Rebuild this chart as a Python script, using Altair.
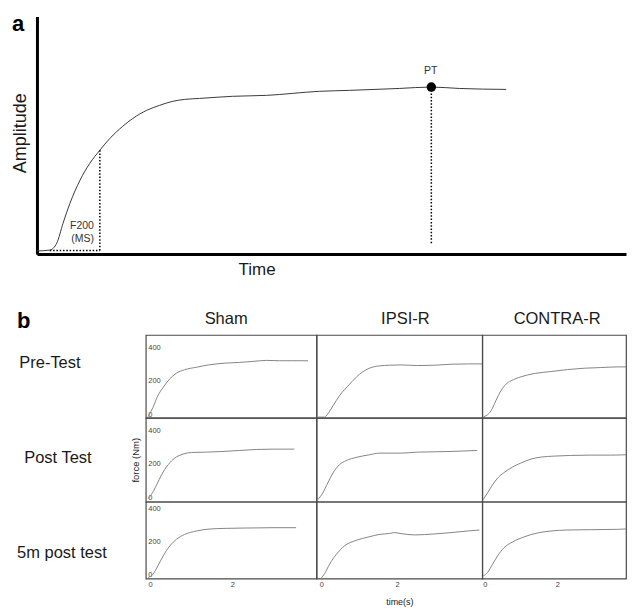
import altair as alt
import pandas as pd

FONT = "Liberation Sans"
TEXT = "#1a1a1a"

# ---------------- panel a : schematic force-time curve ----------------
A_TIME_MS = [0, 41, 63, 83, 105, 137, 168, 200, 232, 273, 305, 349, 390, 432,
             470, 517, 622, 730, 898, 994, 1152, 1254, 1343, 1492]
A_AMPLITUDE = [1.3, 1.7, 4.6, 13.0, 21.4, 31.1, 38.2, 43.7, 48.7, 53.8, 57.1, 60.5,
               62.6, 64.3, 65.1, 65.5, 66.4, 66.8, 68.5, 68.9, 69.7, 70.3, 69.7, 69.3]
F200_MS = 200
F200_AMP = 43.7
ONSET_MS = 41
BASE_AMP = 1.5
PT_MS = 1254
PT_AMP = 70.3
PT_LINE_BOTTOM = 4.6
A_TEXT_F200 = ["F200", "(MS)"]
A_TEXT_F200_T = [181, 181]
A_TEXT_F200_AMP = [12.0, 6.3]
A_TEXT_PT = ["PT"]
A_TEXT_PT_T = [1252]
A_TEXT_PT_AMP = [77.1]

# ---------------- panel b : force (Nm) vs time (s) ----------------
ROW_NAMES = ["Pre-Test", "Post Test", "5m post test"]
COL_NAMES = ["Sham", "IPSI-R", "CONTRA-R"]

SHAM_PRE_T = [-0.05, 0.07, 0.19, 0.32, 0.48, 0.64, 0.84, 1.13, 1.45, 1.85, 2.18, 2.50, 2.83, 3.15, 3.47, 3.84]
SHAM_PRE_F = [-16, 40, 111, 161, 212, 246, 267, 282, 297, 307, 311, 317, 323, 321, 321, 321]
IPSI_PRE_T = [-0.12, 0.09, 0.17, 0.31, 0.48, 0.75, 1.01, 1.27, 1.53, 1.80, 2.11, 2.54, 2.98, 3.42, 3.86, 4.24]
IPSI_PRE_F = [-18, -18, 0, 50, 110, 180, 240, 276, 290, 294, 296, 292, 294, 300, 302, 302]
CONTRA_PRE_T = [-0.04, 0.07, 0.17, 0.30, 0.44, 0.58, 0.72, 0.99, 1.36, 1.82, 2.28, 2.74, 3.20, 3.65, 4.07]
CONTRA_PRE_F = [-16, -4, 20, 80, 140, 180, 200, 224, 244, 256, 268, 276, 280, 284, 284]

SHAM_POST_T = [-0.05, 0.03, 0.16, 0.28, 0.44, 0.60, 0.80, 1.01, 1.37, 1.77, 2.18, 2.58, 2.99, 3.51]
SHAM_POST_F = [-10, 14, 74, 134, 195, 235, 259, 269, 271, 275, 281, 287, 289, 289]
IPSI_POST_T = [-0.09, 0.04, 0.17, 0.31, 0.48, 0.66, 0.92, 1.27, 1.53, 2.11, 2.54, 2.98, 3.42, 4.11]
IPSI_POST_F = [-16, 24, 84, 145, 195, 220, 239, 255, 265, 265, 271, 273, 275, 281]
CONTRA_POST_T = [-0.05, 0.07, 0.21, 0.35, 0.53, 0.76, 0.99, 1.27, 1.54, 1.91, 2.37, 2.92, 3.47, 4.07]
CONTRA_POST_F = [-16, 24, 74, 114, 148, 181, 205, 229, 241, 247, 251, 253, 253, 257]

SHAM_5M_T = [-0.05, 0.07, 0.19, 0.32, 0.48, 0.64, 0.84, 1.13, 1.45, 1.85, 2.34, 2.99, 3.55]
SHAM_5M_F = [-20, 0, 51, 112, 172, 212, 242, 263, 275, 279, 281, 283, 283]
IPSI_5M_T = [0.0, 0.09, 0.22, 0.40, 0.61, 0.92, 1.27, 1.53, 1.80, 1.93, 2.11, 2.46, 2.98, 3.42, 3.86, 4.17]
IPSI_5M_F = [-24, 4, 61, 121, 172, 206, 228, 242, 248, 253, 247, 239, 245, 253, 263, 269]
CONTRA_5M_T = [-0.05, 0.07, 0.21, 0.35, 0.53, 0.76, 1.08, 1.45, 1.82, 2.28, 2.92, 3.65, 4.07]
CONTRA_5M_F = [-10, 10, 61, 112, 162, 196, 227, 251, 263, 269, 271, 273, 277]

Y_TICKS = [0, 200, 400]
X_TICKS = [0, 2]

PANEL_DATA = [
    [(SHAM_PRE_T, SHAM_PRE_F), (IPSI_PRE_T, IPSI_PRE_F), (CONTRA_PRE_T, CONTRA_PRE_F)],
    [(SHAM_POST_T, SHAM_POST_F), (IPSI_POST_T, IPSI_POST_F), (CONTRA_POST_T, CONTRA_POST_F)],
    [(SHAM_5M_T, SHAM_5M_F), (IPSI_5M_T, IPSI_5M_F), (CONTRA_5M_T, CONTRA_5M_F)],
]

# layout settings
COL_W = [171, 166, 144]
COL_XDOM = [[-0.104, 4.046], [-0.124, 4.245], [-0.074, 3.893]]
ROW_H = [83, 84, 77]
ROW_YDOM = [[-22.2, 476], [-28, 478], [-26, 441]]
COL_TITLE_DX = [-5, 6, 3]
ROW_LABEL_X = [42, 50, 54]
ROW_LABEL_Y = [28, 40, 51]
LABEL_W = 138
HEADER_H = 30
GAP_AB = 28


def text_chart(txt, **mark_kw):
    return alt.Chart(pd.DataFrame({"txt": [txt]})).mark_text(font=FONT, **mark_kw)


# ---------------- build panel a ----------------
xa = alt.X("t:Q", scale=alt.Scale(domain=[0, 1873], nice=False, zero=False),
           axis=alt.Axis(title="Time", labels=False, ticks=False, tickSize=0, grid=False,
                         domainColor="#000", domainWidth=3, titleFont=FONT, titleFontSize=17,
                         titleFontWeight="normal", titleColor=TEXT, titlePadding=7,
                         titleX=220, titleAlign="center"))
ya = alt.Y("a:Q", scale=alt.Scale(domain=[0, 100], nice=False, zero=False),
           axis=alt.Axis(title=None, labels=False, ticks=False, tickSize=0, grid=False,
                         domainColor="#000", domainWidth=3))

df_a = pd.DataFrame({"t": A_TIME_MS, "a": A_AMPLITUDE})
line_a = alt.Chart(df_a).mark_line(color="#3a3a3a", strokeWidth=1, interpolate="monotone").encode(x=xa, y=ya)

df_rules = pd.DataFrame({
    "t": [F200_MS, ONSET_MS, PT_MS],
    "t2": [F200_MS, F200_MS, PT_MS],
    "a": [BASE_AMP, BASE_AMP, PT_LINE_BOTTOM],
    "a2": [F200_AMP, BASE_AMP, PT_AMP],
})
rules_a = alt.Chart(df_rules).mark_rule(color="#000", strokeWidth=1.5, strokeDash=[1.5, 1.8]).encode(
    x=xa, x2="t2:Q", y=ya, y2="a2:Q")

dot_a = alt.Chart(pd.DataFrame({"t": [PT_MS], "a": [PT_AMP]})).mark_circle(
    size=90, color="#000", opacity=1).encode(x=xa, y=ya)

df_f200 = pd.DataFrame({"t": A_TEXT_F200_T, "a": A_TEXT_F200_AMP, "label": A_TEXT_F200})
txt_f200 = alt.Chart(df_f200).mark_text(font=FONT, fontSize=10.5, color="#333", align="right",
                                        baseline="middle").encode(x=xa, y=ya, text="label:N")
df_pt = pd.DataFrame({"t": A_TEXT_PT_T, "a": A_TEXT_PT_AMP, "label": A_TEXT_PT})
txt_pt = alt.Chart(df_pt).mark_text(font=FONT, fontSize=10.5, color="#333", align="center",
                                    baseline="middle").encode(x=xa, y=ya, text="label:N")

a_plot = alt.layer(line_a, rules_a, dot_a, txt_f200, txt_pt).properties(width=590, height=238)

a_left = alt.layer(
    text_chart("a", fontSize=22, fontWeight="bold", color="#000", align="left",
               baseline="alphabetic").encode(text="txt:N", x=alt.value(4), y=alt.value(15)),
    text_chart("Amplitude", fontSize=18, color=TEXT, angle=270, align="center",
               baseline="alphabetic").encode(text="txt:N", x=alt.value(18), y=alt.value(117)),
).properties(width=29, height=238)

row_a = alt.hconcat(a_left, a_plot, spacing=0, bounds="flush")


# ---------------- build panel b ----------------
def make_panel(r, c):
    times, forces = PANEL_DATA[r][c]
    df = pd.DataFrame({"time": times, "force": forces})
    if r == 2:
        xkw = dict(values=X_TICKS, labelFont=FONT, labelFontSize=7.5, labelColor="#444",
                   labelPadding=2, ticks=False, tickSize=0, domain=False, grid=False,
                   labelFlush=False)
        if c == 1:
            xkw.update(title="time(s)", titleFont=FONT, titleFontSize=9, titleFontWeight="normal",
                       titleColor=TEXT, titlePadding=9)
        else:
            xkw["title"] = None
        x_axis = alt.Axis(**xkw)
    else:
        x_axis = None
    if c == 0:
        ykw = dict(values=Y_TICKS, labelFont=FONT, labelFontSize=7.5, labelColor="#444",
                   labelAlign="left", labelPadding=-2, ticks=False, tickSize=0, domain=False,
                   grid=False, labelFlush=False, labelOverlap=False)
        if r == 1:
            ykw.update(title="force (Nm)", titleFont=FONT, titleFontSize=9.5,
                       titleFontWeight="normal", titleColor=TEXT, titlePadding=5)
        else:
            ykw["title"] = None
        y_axis = alt.Axis(**ykw)
    else:
        y_axis = None
    return alt.Chart(df).mark_line(color="#858585", strokeWidth=1, interpolate="monotone", clip=True).encode(
        x=alt.X("time:Q", scale=alt.Scale(domain=COL_XDOM[c], nice=False, zero=False), axis=x_axis),
        y=alt.Y("force:Q", scale=alt.Scale(domain=ROW_YDOM[r], nice=False, zero=False), axis=y_axis),
    ).properties(width=COL_W[c], height=ROW_H[r],
                 view=alt.ViewBackground(stroke="#4a4a4a", strokeWidth=1.2))


def label_view(r):
    return text_chart(ROW_NAMES[r], fontSize=16.5, color=TEXT, align="center",
                      baseline="middle").encode(text="txt:N", x=alt.value(ROW_LABEL_X[r]),
                                                y=alt.value(ROW_LABEL_Y[r])
                                                ).properties(width=LABEL_W, height=ROW_H[r])


def header_view(c):
    return text_chart(COL_NAMES[c], fontSize=16.5, color=TEXT, align="center",
                      baseline="alphabetic").encode(text="txt:N",
                                                    x=alt.value(COL_W[c] / 2 + COL_TITLE_DX[c]),
                                                    y=alt.value(18.8)
                                                    ).properties(width=COL_W[c], height=HEADER_H)


b_label = text_chart("b", fontSize=22, fontWeight="bold", color="#000", align="left",
                     baseline="alphabetic").encode(text="txt:N", x=alt.value(9), y=alt.value(23.5)
                                                   ).properties(width=LABEL_W, height=HEADER_H)

cells = [b_label] + [header_view(c) for c in range(3)]
for r in range(3):
    cells.append(label_view(r))
    for c in range(3):
        cells.append(make_panel(r, c))
grid_b = alt.concat(*cells, columns=4, spacing=0, bounds="flush", align="each")

chart = alt.vconcat(row_a, grid_b, spacing=GAP_AB, bounds="full",
                    padding={"left": 0, "top": 5, "right": 0, "bottom": 0}).configure_view(stroke=None)

chart.save("out.html", embed_options={"renderer": "svg", "actions": False})
